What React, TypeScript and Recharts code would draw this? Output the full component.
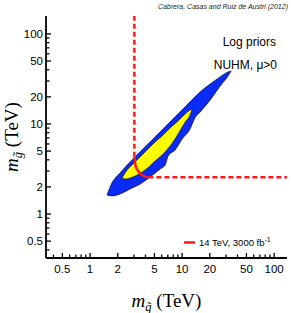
import React from 'react'
import { ComposedChart, Area, Line, XAxis, YAxis } from 'recharts'

// axis limits (log scale, TeV)
const xMin = 0.332
const xMax = 138
const yMin = 0.325
const yMax = 158

const xTicks = [0.4, 0.5, 0.6, 0.7, 0.8, 0.9, 1, 2, 3, 4, 5, 6, 7, 8, 9, 10, 20, 30, 40, 50, 60, 70, 80, 90, 100]
const yTicks = [0.4, 0.5, 0.6, 0.7, 0.8, 0.9, 1, 2, 3, 4, 5, 6, 7, 8, 9, 10, 20, 30, 40, 50, 60, 70, 80, 90, 100]
const xLabels = [0.5, 1, 2, 5, 10, 20, 50, 100]
const yLabels = [0.5, 1, 2, 5, 10, 20, 50, 100]

// 95% region (blue): squark mass vs gluino band
const blueX = [1.53, 1.73, 2.12, 2.72, 3.5, 4.49, 5.77, 6.54, 7.04, 8.39, 10.0, 12.2, 13.8, 15.7, 20.2, 25.9, 31.6, 34.1]
const blueLow = [1.63, 1.59, 1.67, 1.9, 2.15, 2.58, 3.16, 3.5, 4.41, 5.14, 6.81, 8.8, 11.7, 13.6, 18.5, 26.4, 34.1, 38.8]
const blueHigh = [1.63, 2.21, 2.86, 3.78, 4.89, 6.31, 8.15, 9.26, 10.0, 12.0, 14.3, 17.6, 20.0, 22.7, 27.8, 33.3, 37.8, 38.8]

// 68% region (yellow)
const yellowX = [2.23, 2.4, 3.08, 3.96, 5.09, 6.06, 7.41, 9.05, 10.8, 12.2, 12.85]
const yellowLow = [2.51, 2.45, 2.64, 3.08, 3.88, 4.53, 5.7, 7.74, 10.5, 12.6, 14.7]
const yellowHigh = [2.51, 2.86, 3.78, 4.89, 6.31, 7.36, 9.03, 10.8, 12.9, 14.3, 14.7]

// LHC 14 TeV reach
const reachX = [3.03, 3.08, 3.14, 3.3, 3.5, 3.96, 4.3]
const reachY = [4.33, 3.8, 3.35, 3.05, 2.83, 2.6, 2.56]
const vertX = [3.03, 3.03]
const vertY = [4.33, 158]
const horizX = [4.3, 138]
const horizY = [2.56, 2.56]

const blueData = blueX.map((x, i) => ({ x, range: [blueLow[i], blueHigh[i]] }))
const yellowData = yellowX.map((x, i) => ({ x, range: [yellowLow[i], yellowHigh[i]] }))
const reachData = reachX.map((x, i) => ({ x, y: reachY[i] }))
const vertData = vertX.map((x, i) => ({ x, y: vertY[i] }))
const horizData = horizX.map((x, i) => ({ x, y: horizY[i] }))

const PLOT = { left: 46, top: 16, right: 287, bottom: 258 }
const sans = '"Liberation Sans", Arial, sans-serif'
const serif = '"Liberation Serif", "Times New Roman", serif'
const RED = '#ff1a1a'

const BottomTick = (p: any) => {
  const v = p.payload.value
  const major = xLabels.includes(v)
  return (
    <g>
      <line x1={p.x} x2={p.x} y1={PLOT.bottom} y2={PLOT.bottom - (major ? 5 : 3.5)} stroke="#000" strokeWidth={1.3} />
      {major && (
        <text x={p.x} y={273} textAnchor="middle" fontSize={11.5} fontFamily={sans} fill="#000">{String(v)}</text>
      )}
    </g>
  )
}

const TopTick = (p: any) => {
  const major = xLabels.includes(p.payload.value)
  return <line x1={p.x} x2={p.x} y1={PLOT.top} y2={PLOT.top + (major ? 5 : 3.5)} stroke="#000" strokeWidth={1.3} />
}

const LeftTick = (p: any) => {
  const v = p.payload.value
  const major = yLabels.includes(v)
  return (
    <g>
      <line x1={PLOT.left} x2={PLOT.left + (major ? 5 : 3.5)} y1={p.y} y2={p.y} stroke="#000" strokeWidth={1.3} />
      {major && (
        <text x={43} y={p.y + 4} textAnchor="end" fontSize={11.5} fontFamily={sans} fill="#000">{String(v)}</text>
      )}
    </g>
  )
}

const RightTick = (p: any) => {
  const major = yLabels.includes(p.payload.value)
  return <line x1={PLOT.right} x2={PLOT.right - (major ? 5 : 3.5)} y1={p.y} y2={p.y} stroke="#000" strokeWidth={1.3} />
}

export default function App() {
  return (
    <div style={{ position: 'absolute', left: 0, top: 0, width: 291, height: 313, background: '#fff' }}>
      <ComposedChart width={291} height={313} margin={{ top: 16, right: 4, bottom: 0, left: 0 }}>
        <XAxis dataKey="x" type="number" scale="log" domain={[xMin, xMax]} allowDataOverflow
          ticks={xTicks} interval={0} tickLine={false} height={55}
          axisLine={{ stroke: '#000', strokeWidth: 1.8 }} tick={BottomTick} />
        <XAxis xAxisId="top" orientation="top" dataKey="x" type="number" scale="log" domain={[xMin, xMax]} allowDataOverflow
          ticks={xTicks} interval={0} tickLine={false} height={0}
          axisLine={{ stroke: '#000', strokeWidth: 1.8 }} tick={TopTick} />
        <YAxis type="number" scale="log" domain={[yMin, yMax]} allowDataOverflow
          ticks={yTicks} interval={0} tickLine={false} width={46}
          axisLine={{ stroke: '#000', strokeWidth: 1.8 }} tick={LeftTick} />
        <YAxis yAxisId="right" orientation="right" type="number" scale="log" domain={[yMin, yMax]} allowDataOverflow
          ticks={yTicks} interval={0} tickLine={false} width={0}
          axisLine={{ stroke: '#000', strokeWidth: 1.8 }} tick={RightTick} />

        <Area data={blueData} dataKey="range" type="monotone" fill="#0a2af5" fillOpacity={1}
          stroke="#101040" strokeWidth={0.8} dot={false} activeDot={false} isAnimationActive={false} />
        <Area data={yellowData} dataKey="range" type="monotone" fill="#ffff00" fillOpacity={1}
          stroke="#202000" strokeWidth={0.7} dot={false} activeDot={false} isAnimationActive={false} />

        <Line data={vertData} dataKey="y" type="linear" stroke={RED} strokeWidth={2.5} strokeDasharray="5 3"
          dot={false} activeDot={false} isAnimationActive={false} />
        <Line data={horizData} dataKey="y" type="linear" stroke={RED} strokeWidth={2.5} strokeDasharray="5 3"
          dot={false} activeDot={false} isAnimationActive={false} />
        <Line data={reachData} dataKey="y" type="natural" stroke={RED} strokeWidth={2.5}
          dot={false} activeDot={false} isAnimationActive={false} />
      </ComposedChart>

      <svg width={291} height={313} style={{ position: 'absolute', left: 0, top: 0, pointerEvents: 'none' }}>
        <text x={288} y={9} textAnchor="end" fontSize={7} fontStyle="italic" fontFamily={sans} fill="#222">
          Cabrera, Casas and Ruiz de Austri (2012)
        </text>
        <text x={276} y={45.5} textAnchor="end" fontSize={12} fontFamily={sans} fill="#000">Log priors</text>
        <text x={277} y={69} textAnchor="end" fontSize={12} fontFamily={sans} fill="#000">NUHM, μ&gt;0</text>

        <line x1={184} x2={195} y1={242.5} y2={242.5} stroke={RED} strokeWidth={2.5} />
        <text x={199} y={246} fontSize={9.5} fontFamily={sans} fill="#000">
          14 TeV, 3000 fb<tspan dy={-4} fontSize={7}>-1</tspan>
        </text>

        <text x={166.5} y={307} textAnchor="middle" fontSize={19} fontFamily={serif} fill="#000">
          <tspan fontStyle="italic">m</tspan>
          <tspan fontSize={12.5} dy={4} fontStyle="italic">q̃</tspan>
          <tspan dy={-4}> (TeV)</tspan>
        </text>
        <text transform="translate(18,137) rotate(-90)" textAnchor="middle" fontSize={19} fontFamily={serif} fill="#000">
          <tspan fontStyle="italic">m</tspan>
          <tspan fontSize={12.5} dy={4} fontStyle="italic">g̃</tspan>
          <tspan dy={-4}> (TeV)</tspan>
        </text>
      </svg>
    </div>
  )
}
